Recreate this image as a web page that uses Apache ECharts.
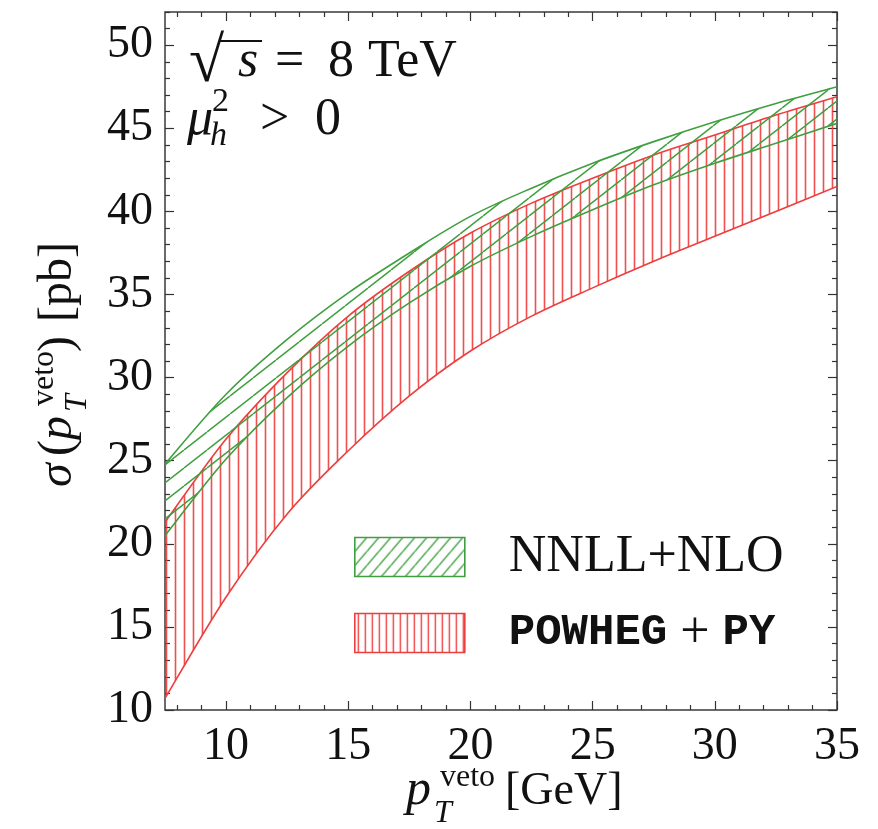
<!DOCTYPE html>
<html>
<head>
<meta charset="utf-8">
<script src="https://cdn.jsdelivr.net/npm/echarts@6/dist/echarts.min.js"></script>
<style>
  html, body { margin: 0; padding: 0; background: #fff; }
  #chart { width: 878px; height: 829px; }
</style>
</head>
<body>
<div id="chart"></div>
<script>
// p_T^veto grid [GeV]
const ptVeto = [7.5, 10, 12.5, 15, 17.5, 20, 22.5, 25, 27.5, 30, 32.5, 35];
// NNLL+NLO uncertainty band [pb]
const nnllUpper = [24.8, 29.0, 32.3, 35.1, 37.5, 39.7, 41.4, 42.9, 44.2, 45.4, 46.5, 47.5];
const nnllLower = [20.5, 25.1, 28.8, 31.9, 34.5, 36.7, 38.5, 40.1, 41.6, 42.9, 44.1, 45.3];
// POWHEG + PYTHIA band [pb]
const powUpper = [21.3, 26.3, 30.3, 33.7, 36.4, 38.7, 40.5, 42.0, 43.4, 44.6, 45.8, 46.9];
const powLower = [10.7, 16.8, 21.8, 25.6, 28.9, 31.6, 33.7, 35.4, 37.0, 38.5, 40.0, 41.5];
// axis tick labels
const xTickLabels = [10, 15, 20, 25, 30, 35];
const yTickLabels = [10, 15, 20, 25, 30, 35, 40, 45, 50];

const GREEN = '#3f9f3f';
const RED = '#ee3d3d';
const SERIF = 'Liberation Serif';

const xMinor = [];
for (let v = 8; v <= 35; v++) if (v % 5) xMinor.push(v);
const yMinor = [];
for (let v = 11; v <= 52; v++) if (v % 5) yMinor.push(v);

// hatch fills
function diagHatch(color, a, b, lw) {
  const c = document.createElement('canvas');
  c.width = a; c.height = b;
  const ctx = c.getContext('2d');
  ctx.strokeStyle = color; ctx.lineWidth = lw;
  for (let k = -1; k <= 1; k++) {
    ctx.beginPath();
    ctx.moveTo(k * a, b);
    ctx.lineTo(k * a + a, 0);
    ctx.stroke();
  }
  return { image: c, repeat: 'repeat' };
}
function vertHatch(color, w, lw) {
  const c = document.createElement('canvas');
  c.width = w; c.height = 4;
  const ctx = c.getContext('2d');
  ctx.fillStyle = color;
  ctx.fillRect((w - lw) / 2, 0, lw, 4);
  return { image: c, repeat: 'repeat' };
}

// smooth cubic path through pixel points (Catmull-Rom style control points)
function curvePath(pts, moveFirst) {
  let d = (moveFirst ? 'M' : 'L') + pts[0][0] + ' ' + pts[0][1];
  for (let i = 0; i < pts.length - 1; i++) {
    const p0 = pts[Math.max(i - 1, 0)], p1 = pts[i], p2 = pts[i + 1], p3 = pts[Math.min(i + 2, pts.length - 1)];
    const c1 = [p1[0] + (p2[0] - p0[0]) / 6, p1[1] + (p2[1] - p0[1]) / 6];
    const c2 = [p2[0] - (p3[0] - p1[0]) / 6, p2[1] - (p3[1] - p1[1]) / 6];
    d += ' C' + c1[0] + ' ' + c1[1] + ' ' + c2[0] + ' ' + c2[1] + ' ' + p2[0] + ' ' + p2[1];
  }
  return d;
}

function bandSeries(name, hi, lo, color, fill) {
  return {
    name: name, type: 'custom', color: color, clip: true, silent: true,
    data: ptVeto.map((x, i) => [x, lo[i], hi[i]]),
    encode: { x: 0, y: [1, 2] },
    renderItem: function (params, api) {
      if (params.dataIndex !== 0) return null;
      const top = ptVeto.map((x, i) => api.coord([x, hi[i]]));
      const bot = ptVeto.map((x, i) => api.coord([x, lo[i]]));
      const area = curvePath(top, true) + ' ' + curvePath(bot.slice().reverse(), false) + ' Z';
      return {
        type: 'group',
        children: [
          { type: 'path', shape: { pathData: area }, style: { fill: fill, stroke: null } },
          { type: 'path', shape: { pathData: curvePath(top, true) },
            style: { fill: null, stroke: color, lineWidth: 1.6 } },
          { type: 'path', shape: { pathData: curvePath(bot, true) },
            style: { fill: null, stroke: color, lineWidth: 1.6 } }
        ]
      };
    }
  };
}

function xAx(pos, values, len, labels) {
  return {
    type: 'value', position: pos, min: 7.5, max: 35,
    axisLine: { show: false }, splitLine: { show: false },
    axisTick: { show: true, inside: true, length: len, customValues: values,
                lineStyle: { color: '#333', width: 1.2 } },
    axisLabel: labels ? { show: true, customValues: values, margin: 14,
                          fontFamily: SERIF, fontSize: 46, color: '#111' } : { show: false }
  };
}
function yAx(pos, values, len, labels) {
  return {
    type: 'value', position: pos, min: 10, max: 52,
    axisLine: { show: false }, splitLine: { show: false },
    axisTick: { show: true, inside: true, length: len, customValues: values,
                lineStyle: { color: '#333', width: 1.2 } },
    axisLabel: labels ? { show: true, customValues: values, margin: 12,
                          fontFamily: SERIF, fontSize: 46, color: '#111' } : { show: false }
  };
}

// math-style text piece placed on a baseline
function piece(text, x, base, size, italic) {
  return {
    type: 'text',
    style: { text: text, x: x, y: base - 0.34 * size, verticalAlign: 'middle', align: 'left',
             fontFamily: SERIF, fontSize: size, fontStyle: italic ? 'italic' : 'normal', fill: '#111' }
  };
}

const chart = echarts.init(document.getElementById('chart'), null, { renderer: 'canvas' });
chart.setOption({
  animation: false,
  backgroundColor: '#fff',
  grid: { left: 165, right: 41, top: 12, bottom: 119, show: true,
          borderColor: '#3a3a3a', borderWidth: 1.5, backgroundColor: 'transparent' },
  xAxis: [
    xAx('bottom', xTickLabels, 9, true),
    xAx('bottom', xMinor, 5, false),
    xAx('top', xTickLabels, 9, false),
    xAx('top', xMinor, 5, false)
  ],
  yAxis: [
    yAx('left', yTickLabels, 9, true),
    yAx('left', yMinor, 5, false),
    yAx('right', yTickLabels, 9, false),
    yAx('right', yMinor, 5, false)
  ],
  legend: {
    orient: 'vertical', left: 349, top: 526, itemWidth: 110, itemHeight: 39, itemGap: 24,
    icon: 'rect', selectedMode: false,
    data: [
      { name: 'NNLL+NLO', itemStyle: { color: diagHatch(GREEN, 12, 14, 1.4), borderColor: GREEN, borderWidth: 1.6 } },
      { name: 'POWHEG + PY', itemStyle: { color: vertHatch(RED, 7, 1.4), borderColor: RED, borderWidth: 1.6 } }
    ],
    formatter: name => name === 'NNLL+NLO' ? '{s|NNLL+NLO}' : '{m|POWHEG}{s| + }{m|PY}',
    textStyle: {
      padding: [0, 0, 0, 39],
      rich: {
        s: { fontFamily: SERIF, fontSize: 52, color: '#111', lineHeight: 40 },
        m: { fontFamily: 'Liberation Mono', fontSize: 44, fontWeight: 'bold', color: '#111', lineHeight: 40 }
      }
    }
  },
  series: [
    bandSeries('POWHEG + PY', powUpper, powLower, RED, vertHatch('rgba(238,61,61,0.9)', 9, 1.6)),
    bandSeries('NNLL+NLO', nnllUpper, nnllLower, GREEN, diagHatch(GREEN, 23, 18, 1.5))
  ],
  graphic: [
    // sqrt(s) = 8 TeV
    piece('\u221A', 189, 86, 64, false),
    { type: 'line', shape: { x1: 220, y1: 41, x2: 262, y2: 41 }, style: { stroke: '#111', lineWidth: 2 } },
    piece('s', 238, 80, 52, true),
    piece('=', 275, 80, 52, false),
    piece('8', 328, 80, 52, false),
    piece('TeV', 368, 80, 52, false),
    // mu_h^2 > 0
    piece('\u03BC', 187, 138, 52, true),
    piece('2', 212, 114, 34, false),
    piece('h', 210, 148, 34, true),
    piece('>', 260, 138, 52, false),
    piece('0', 315, 138, 52, false),
    // x-axis title
    piece('p', 406, 808, 50, true),
    piece('veto', 440, 788, 32, false),
    piece('T', 434, 824, 32, true),
    piece('[GeV]', 505, 808, 46, false),
    // y-axis title, rotated
    {
      type: 'group', x: 75, y: 492, rotation: Math.PI / 2,
      children: [
        piece('\u03C3', 5, 0, 48, true),
        piece('(', 36, 0, 48, false),
        piece('p', 52, 0, 48, true),
        piece('veto', 86, -20, 32, false),
        piece('T', 80, 13, 32, true),
        piece(')', 140, 0, 48, false),
        piece('[pb]', 170, 0, 48, false)
      ]
    }
  ]
});
</script>
</body>
</html>
